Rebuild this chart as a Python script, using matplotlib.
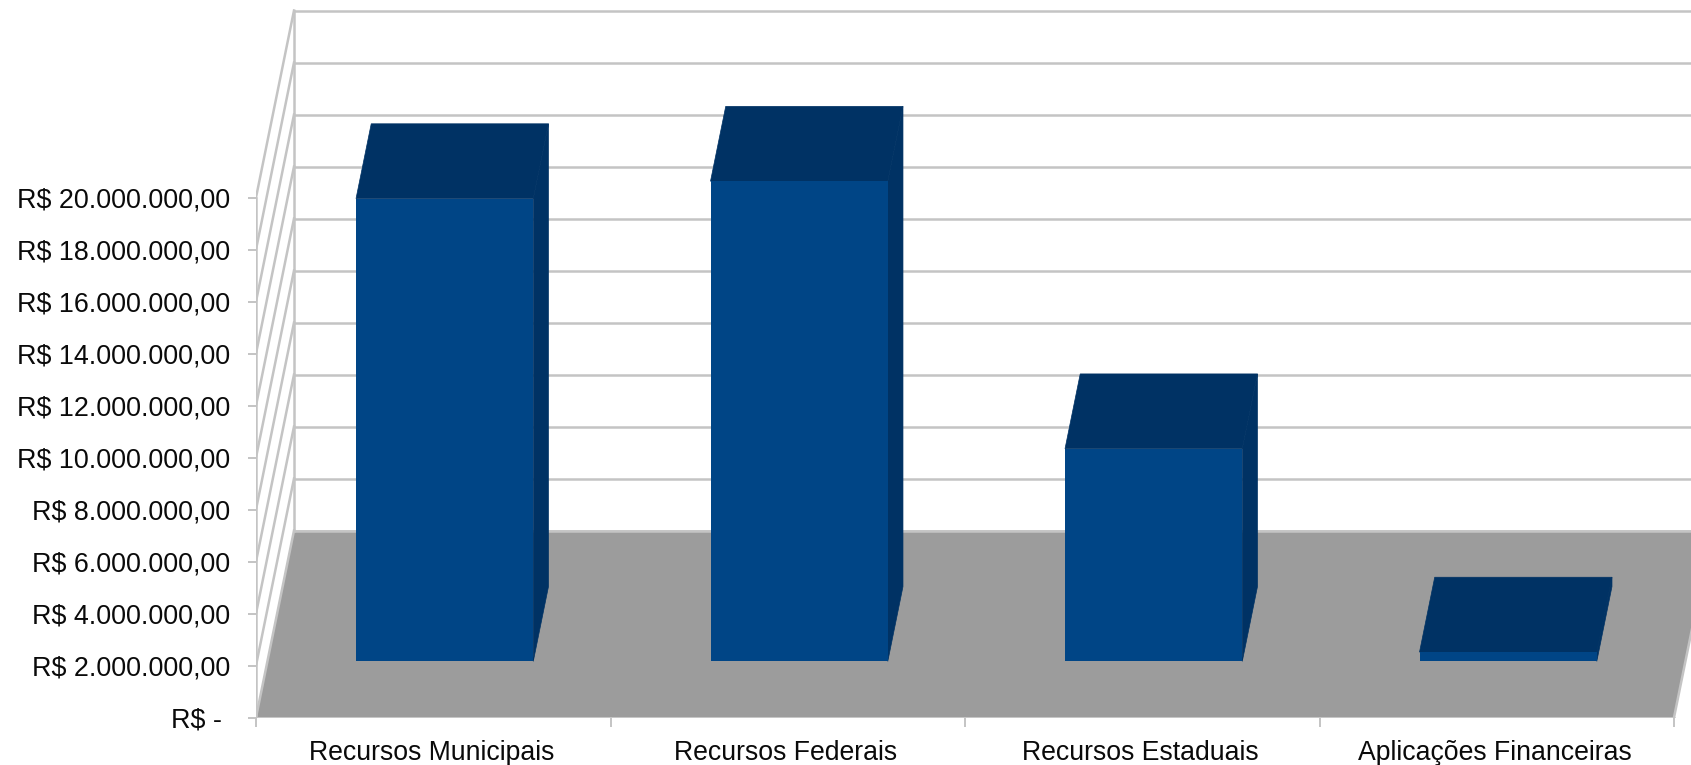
import numpy as np
import matplotlib
matplotlib.use('Agg')
import matplotlib.pyplot as plt
from matplotlib.transforms import ScaledTranslation

#---------------------- DATA
categories = ['Recursos Municipais', 'Recursos Federais', 'Recursos Estaduais', 'Aplicações Financeiras']
values = [17800000, 18470000, 8180000, 360000]
yticks = [0, 2e6, 4e6, 6e6, 8e6, 10e6, 12e6, 14e6, 16e6, 18e6, 20e6]
ylabels = ['R$ - ', 'R$ 2.000.000,00', 'R$ 4.000.000,00', 'R$ 6.000.000,00', 'R$ 8.000.000,00',
           'R$ 10.000.000,00', 'R$ 12.000.000,00', 'R$ 14.000.000,00', 'R$ 16.000.000,00',
           'R$ 18.000.000,00', 'R$ 20.000.000,00']

#---------------------- STYLE / GEOMETRY
W, H = 1691, 765
x_left, y_zero = 256, 717.5      # front corner of the floor, pixels
cat_px = 354.5                   # pixels per category
val_px = 26.0 / 1e6              # pixels per unit of value

# oblique 3d look: full depth of the box, in data units
depth_x = 38 / cat_px
depth_y = 187 / val_px

bar_width = 0.5
bar_start = 0.30                 # depth fraction where bars begin
bar_depth = 0.40                 # depth fraction taken by bars

grid_col = '#c4c4c4'
floor_col = '#9c9c9c'
front_col = '#004586'
dark_col = '#003264'
lw = 1.8

plt.rcParams['font.family'] = ['Liberation Sans', 'DejaVu Sans']

fig = plt.figure(figsize=(W / 100, H / 100), dpi=100)
ax = fig.add_axes([x_left / W, (H - y_zero) / H, (W - x_left) / W, y_zero / H])
ax.set_xlim(0, (W - x_left) / cat_px)
ax.set_ylim(0, y_zero / val_px)
for s in ax.spines.values():
    s.set_visible(False)
ax.patch.set_alpha(0)


def proj(x, y, d):
    return x + d * depth_x, y + d * depth_y


ncat = len(categories)
top = yticks[-1]

#---> floor
corners = [proj(0, 0, 0), proj(ncat, 0, 0), proj(ncat, 0, 1), proj(0, 0, 1)]
ax.fill([c[0] for c in corners], [c[1] for c in corners], color=floor_col, lw=0, zorder=1)
ax.plot([corners[0][0], corners[1][0]], [0, 0], color=grid_col, lw=lw, zorder=2)
ax.plot([corners[1][0], corners[2][0]], [corners[1][1], corners[2][1]], color=grid_col, lw=lw, zorder=2)

#---> walls
bx, _ = proj(0, 0, 1)
for t in yticks:
    xb, yb = proj(0, t, 1)
    ax.plot([xb, proj(ncat, t, 1)[0]], [yb, yb], color=grid_col, lw=lw, zorder=2)
    ax.plot([0, xb], [t, yb], color=grid_col, lw=lw, zorder=2)
ax.plot([0, 0], [0, top], color=grid_col, lw=lw, zorder=2)
ax.plot([bx, bx], [depth_y, top + depth_y], color=grid_col, lw=lw, zorder=2)

#---> bars
for i, v in enumerate(values):
    x0 = i + (1 - bar_width) / 2
    x1 = x0 + bar_width
    d0, d1 = bar_start, bar_start + bar_depth
    xa, ya = proj(x0, 0, d0)
    ax.bar(xa, v, bottom=ya, width=bar_width, align='edge', color=front_col, lw=0, zorder=4)
    # top face
    p = [proj(x0, v, d0), proj(x1, v, d0), proj(x1, v, d1), proj(x0, v, d1)]
    ax.fill([q[0] for q in p], [q[1] for q in p], color=dark_col, ec=dark_col, lw=0.5, zorder=3)
    # side face
    p = [proj(x1, 0, d0), proj(x1, 0, d1), proj(x1, v, d1), proj(x1, v, d0)]
    ax.fill([q[0] for q in p], [q[1] for q in p], color=dark_col, ec=dark_col, lw=0.5, zorder=3)

#---> ticks
ax.set_yticks(yticks)
ax.set_yticklabels(ylabels, fontsize=19.4, color='#0a0a0a')
ax.tick_params(axis='y', length=5.8, width=1.4, color=grid_col, pad=13)
ax.set_xticks(np.arange(ncat + 1))
ax.set_xticklabels([])
ax.set_xticks(np.arange(ncat) + 0.5, minor=True)
ax.set_xticklabels(categories, minor=True, fontsize=19.2, color='#0a0a0a')
ax.tick_params(axis='x', which='major', length=6.5, width=1.4, color=grid_col)
ax.tick_params(axis='x', which='minor', length=0, pad=16.5)
# nudge the labels a touch left like in the original
for lab in ax.get_xticklabels(minor=True):
    lab.set_transform(lab.get_transform() + ScaledTranslation(-2 / 100, 0, fig.dpi_scale_trans))

fig.savefig('out.png', dpi=100)
